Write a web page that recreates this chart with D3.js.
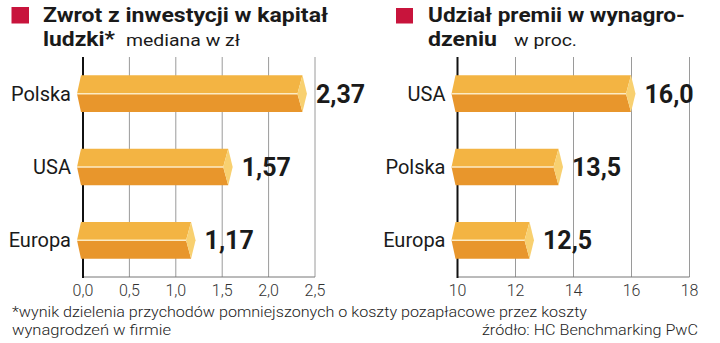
<!DOCTYPE html>
<html>
<head>
<meta charset="utf-8">
<script src="https://cdn.jsdelivr.net/npm/d3@7/dist/d3.min.js"></script>
<style>
  html, body { margin: 0; padding: 0; background: #fff; }
  svg { display: block; }
  text { font-family: Roboto, "Noto Sans", sans-serif; }
</style>
</head>
<body>
<svg id="chart" width="720" height="343"></svg>
<script>
// ---- data ----
const leftCategories = ["Polska", "USA", "Europa"];
const leftValues = [2.37, 1.57, 1.17];
const leftLabels = ["2,37", "1,57", "1,17"];
const leftTicks = [0, 0.5, 1, 1.5, 2, 2.5];
const leftTickLabels = ["0,0", "0,5", "1,0", "1,5", "2,0", "2,5"];

const rightCategories = ["USA", "Polska", "Europa"];
const rightValues = [16.0, 13.5, 12.5];
const rightLabels = ["16,0", "13,5", "12,5"];
const rightTicks = [10, 12, 14, 16, 18];
const rightTickLabels = ["10", "12", "14", "16", "18"];

const svg = d3.select("#chart");

const C = {
  red: "#C8143C",
  top: "#F3B443",
  bottom: "#E8962C",
  cap: "#F8D070",
  grid: "#9a9a9a",
  text: "#1a1a1a"
};

function fitText(sel, w) {
  sel.attr("textLength", w).attr("lengthAdjust", "spacingAndGlyphs");
}

function panel(opts) {
  const g = svg.append("g");
  const x = d3.scaleLinear().domain(opts.domain).range(opts.xRange);
  const y = d3.scaleBand().domain(opts.categories).range([57, 277])
    .paddingInner(0.5).paddingOuter(0.25);
  const x0 = x(opts.domain[0]);
  const xMax = x(opts.domain[1]);

  g.selectAll(".grid").data(opts.ticks.slice(1)).join("line")
    .attr("x1", d => x(d)).attr("x2", d => x(d))
    .attr("y1", 57).attr("y2", 277)
    .attr("stroke", C.grid).attr("stroke-width", 1);
  g.append("line").attr("x1", x0).attr("x2", xMax).attr("y1", 277).attr("y2", 277)
    .attr("stroke", "#777").attr("stroke-width", 1);
  g.append("line").attr("x1", x0).attr("x2", x0).attr("y1", 57).attr("y2", 278)
    .attr("stroke", "#111").attr("stroke-width", 2);

  g.selectAll(".tick").data(opts.ticks).join("text")
    .attr("x", d => x(d)).attr("y", 296)
    .attr("text-anchor", "middle")
    .attr("font-size", 16).attr("font-weight", 300).attr("fill", "#333")
    .text((d, i) => opts.tickLabels[i]);

  const bars = g.selectAll(".bar").data(opts.categories).join("g");
  bars.each(function (cat, i) {
    const b = d3.select(this);
    const t = y(cat), bt = t + y.bandwidth(), m = t + y.bandwidth() / 2;
    const xr = x(opts.values[i]) - 0.5;
    const pts = a => a.map(p => p.join(",")).join(" ");
    b.append("polygon").attr("fill", C.top)
      .attr("points", pts([[x0 - 2, t], [xr, t], [xr - 5, m], [x0 - 6, m]]));
    b.append("polygon").attr("fill", C.bottom)
      .attr("points", pts([[x0 - 6, m], [xr - 5, m], [xr, bt], [x0 - 2, bt]]));
    b.append("polygon").attr("fill", C.cap)
      .attr("points", pts([[xr, t], [xr + 4.5, m], [xr, bt], [xr - 5, m]]));
    b.append("line").attr("x1", x0 - 6).attr("x2", xr - 5).attr("y1", m).attr("y2", m)
      .attr("stroke", "#fcebc4").attr("stroke-width", 1.5);
    b.append("text").attr("x", xr + 4.5 + 9).attr("y", m + 9)
      .attr("font-size", 25).attr("font-weight", 700).attr("fill", C.text)
      .text(opts.labels[i]);
    b.append("text").attr("x", x0 - 12).attr("y", m + 7)
      .attr("text-anchor", "end").attr("font-size", 20).attr("fill", C.text)
      .text(cat);
  });
}

panel({
  categories: leftCategories, values: leftValues, labels: leftLabels,
  ticks: leftTicks, tickLabels: leftTickLabels,
  domain: [0, 2.5], xRange: [83, 315]
});
panel({
  categories: rightCategories, values: rightValues, labels: rightLabels,
  ticks: rightTicks, tickLabels: rightTickLabels,
  domain: [10, 18], xRange: [457.5, 689.5]
});

svg.append("rect").attr("x", 11.5).attr("y", 7).attr("width", 17.5).attr("height", 16.5).attr("fill", C.red);
svg.append("rect").attr("x", 396).attr("y", 8).attr("width", 17).attr("height", 15.5).attr("fill", C.red);

function txt(x, y, size, weight, str, w, anchor) {
  const t = svg.append("text").attr("x", x).attr("y", y)
    .attr("font-size", size).attr("font-weight", weight).attr("fill", C.text)
    .attr("text-anchor", anchor || "start").text(str);
  fitText(t, w);
  return t;
}
txt(43, 22, 20.5, 700, "Zwrot z inwestycji w kapitał", 285);
txt(43, 45.5, 20.5, 700, "ludzki*", 72);
txt(126, 45.5, 17, 400, "mediana w zł", 114);
txt(428, 22, 20.5, 700, "Udział premii w wynagro-", 257);
txt(428, 45.5, 20.5, 700, "dzeniu", 69);
txt(514, 45.5, 17, 400, "w proc.", 63);

const f1 = txt(12, 316.5, 15.5, 300, "*wynik dzielenia przychodów pomniejszonych o koszty pozapłacowe przez koszty", 575);
const f2 = txt(12, 335, 15.5, 300, "wynagrodzeń w firmie", 159);
const f3 = txt(698, 335, 15.5, 300, "źródło: HC Benchmarking PwC", 216, "end");
[f1, f2, f3].forEach(s => s.attr("fill", "#222"));
</script>
</body>
</html>
